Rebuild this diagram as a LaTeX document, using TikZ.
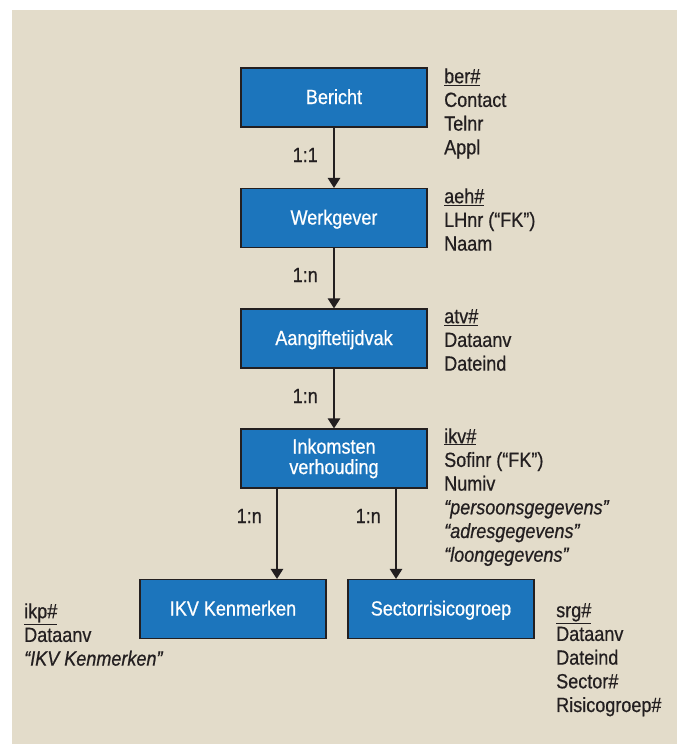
\documentclass[tikz,border=0pt]{standalone}
\usepackage{fontspec}
\setmainfont{Liberation Sans}[FakeStretch=0.88,FakeBold=0.6]
\usetikzlibrary{arrows.meta}
\definecolor{bg}{HTML}{E3DCCA}
\definecolor{boxblue}{HTML}{1C75BC}
\definecolor{inkc}{HTML}{231F20}
\begin{document}
\begin{tikzpicture}[x=1pt,y=-1pt,
  entity/.style={draw=inkc, line width=1.2pt, fill=boxblue, minimum width=186pt, minimum height=59pt,
    text=white, font=\fontsize{20.5}{20.5}\selectfont, align=center, inner sep=0pt},
  oneline/.style={text height=15pt, text depth=2pt},
  attr/.style={anchor=north west, inner sep=0pt, align=left, text=inkc,
    font=\fontsize{20.5}{23.7}\selectfont},
  card/.style={anchor=base east, inner sep=0pt, text=inkc, font=\fontsize{20.5}{23.7}\selectfont},
  rel/.style={draw=inkc, line width=1.3pt, -{Triangle[length=10pt,width=12.5pt]}}]
\useasboundingbox (0,0) rectangle (677,744);
\fill[bg] (12,10) rectangle (677,744);

\node[entity,oneline] (ber) at (334,97.5) {Bericht};
\node[entity,oneline] (wg) at (334,218) {Werkgever};
\node[entity,oneline] (atv) at (334,338.5) {Aangiftetijdvak};
\node[entity] (ikv) at (334,458.5) {Inkomsten\\verhouding};
\node[entity,oneline] (ikp) at (233,609) {IKV Kenmerken};
\node[entity,oneline] (srg) at (441,609) {Sectorrisicogroep};

\draw[rel] (ber.south) -- (wg.north);
\draw[rel] (wg.south) -- (atv.north);
\draw[rel] (atv.south) -- (ikv.north);
\draw[rel] ([xshift=-57pt]ikv.south) -- ([xshift=-57pt]ikv.south |- ikp.north);
\draw[rel] ([xshift=62pt]ikv.south) -- ([xshift=62pt]ikv.south |- srg.north);

\node[card] (c1) at (318,162) {1:1};
\node[card] (c2) at (318,282) {1:n};
\node[card] (c3) at (318,403) {1:n};
\node[card] (c4) at (262,523) {1:n};
\node[card] (c5) at (381,523) {1:n};

\node[attr] (aber) at (444,66.4) {\strut\underline{ber\#}\\Contact\\Telnr\\Appl};
\node[attr] (awg) at (444,186.4) {\strut\underline{aeh\#}\\LHnr (“FK”)\\Naam};
\node[attr] (aatv) at (444,306.4) {\strut\underline{atv\#}\\Dataanv\\Dateind};
\node[attr] (aikv) at (444,426.4) {\strut\underline{ikv\#}\\Sofinr (“FK”)\\Numiv\\\itshape “persoonsgegevens”\\\itshape “adresgegevens”\\\itshape “loongegevens”};
\node[attr] (aikp) at (24,601.4) {\strut\underline{ikp\#}\\Dataanv\\\itshape “IKV Kenmerken”};
\node[attr] (asrg) at (556,600.4) {\strut\underline{srg\#}\\Dataanv\\Dateind\\Sector\#\\Risicogroep\#};
\end{tikzpicture}
\end{document}
